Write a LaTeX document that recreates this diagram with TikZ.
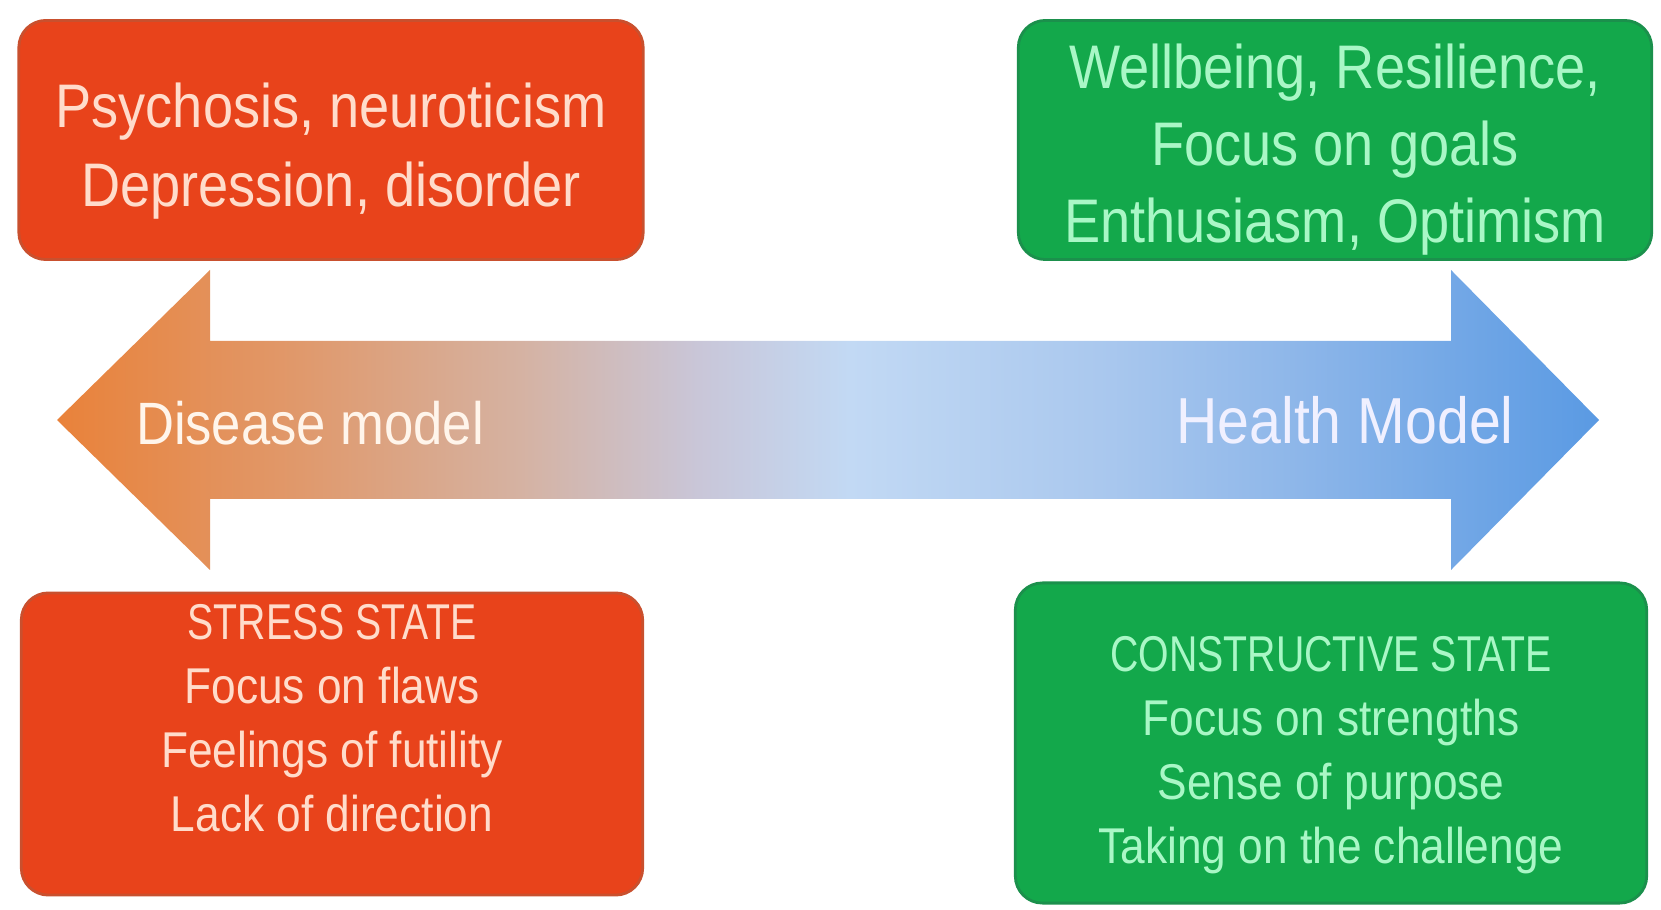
\documentclass[tikz,border=0pt]{standalone}
\usepackage{fontspec}
\setmainfont{Liberation Sans}[FakeStretch=0.88]
\newfontfamily\capsfont{Liberation Sans}[FakeStretch=0.78]
\usetikzlibrary{positioning,calc}

\definecolor{stressred}{HTML}{E8431B}
\definecolor{stressedge}{HTML}{C9502E}
\definecolor{stresstext}{HTML}{FFDCCB}
\definecolor{healthgreen}{HTML}{13A84B}
\definecolor{healthedge}{HTML}{1B904C}
\definecolor{healthtext}{HTML}{A9F7C6}
\definecolor{shadeA}{HTML}{E9823A}
\definecolor{shadeB}{HTML}{E0996C}
\definecolor{shadeC}{HTML}{D5B2A2}
\definecolor{shadeD}{HTML}{C9C6D8}
\definecolor{shadeE}{HTML}{C2D9F4}
\definecolor{shadeF}{HTML}{AAC8EE}
\definecolor{shadeG}{HTML}{8DB6E9}
\definecolor{shadeH}{HTML}{5A9AE3}

\pgfdeclarehorizontalshading{modelshade}{100bp}{color(0bp)=(shadeA); color(25bp)=(shadeA);
  color(32.9bp)=(shadeB); color(40bp)=(shadeC); color(45.8bp)=(shadeD); color(50.7bp)=(shadeE);
  color(58.8bp)=(shadeF); color(65.3bp)=(shadeG); color(75bp)=(shadeH); color(100bp)=(shadeH)}

\tikzset{
    statebox/.style={rounded corners=0.27cm, line width=0.8pt},
    redbox/.style={statebox, fill=stressred, draw=stressedge},
    greenbox/.style={statebox, fill=healthgreen, draw=healthedge},
    bigtext/.style={align=center, inner sep=0pt, font=\fontsize{17.5}{22.5}\selectfont},
    smalltext/.style={align=center, inner sep=0pt, font=\fontsize{14.3}{18.2}\selectfont},
    modeltext/.style={inner sep=0pt, font=\fontsize{18.5}{22}\selectfont}
}

\begin{document}
\begin{tikzpicture}[x=0.01cm, y=0.01cm]
    \useasboundingbox (0,0) rectangle (1661,909);

    % the two-headed model arrow
    \shade[shading=modelshade] (57,489) -- (210,639) -- (210,568) -- (1451,568) -- (1451,639)
        -- (1599,489) -- (1451,339) -- (1451,410) -- (210,410) -- (210,339) -- cycle;
    \node[modeltext, text=white!92!orange, font=\fontsize{17}{20}\selectfont] (disease) at (310,486) {Disease model};
    \node[modeltext, text=white!94!blue] (health) at (1345,489) {Health Model};

    % state boxes
    \node[redbox, minimum width=6.24cm, minimum height=2.39cm] (illness) at (331,769) {};
    \node[greenbox, minimum width=6.33cm, minimum height=2.39cm] (wellbeing) at (1335,769) {};
    \node[redbox, minimum width=6.21cm, minimum height=3.02cm] (stress) at (332,165) {};
    \node[greenbox, minimum width=6.31cm, minimum height=3.2cm] (constructive) at (1331,166) {};

    \node[bigtext, text=stresstext, yshift=-0.11cm] (illnesstext) at (illness)
        {Psychosis, neuroticism\\Depression, disorder};
    \node[bigtext, text=healthtext, yshift=-0.10cm,
          font=\fontsize{17.5}{21.9}\selectfont] (wellbeingtext) at (wellbeing)
        {Wellbeing, Resilience,\\Focus on goals\\Enthusiasm, Optimism};
    \node[smalltext, text=stresstext, yshift=0.26cm] (stresstext) at (stress)
        {{\capsfont STRESS STATE}\\Focus on flaws\\Feelings of futility\\Lack of direction};
    \node[smalltext, text=healthtext, yshift=-0.12cm] (constructivetext) at (constructive)
        {{\capsfont CONSTRUCTIVE STATE}\\Focus on strengths\\Sense of purpose\\Taking on the challenge};
\end{tikzpicture}
\end{document}
